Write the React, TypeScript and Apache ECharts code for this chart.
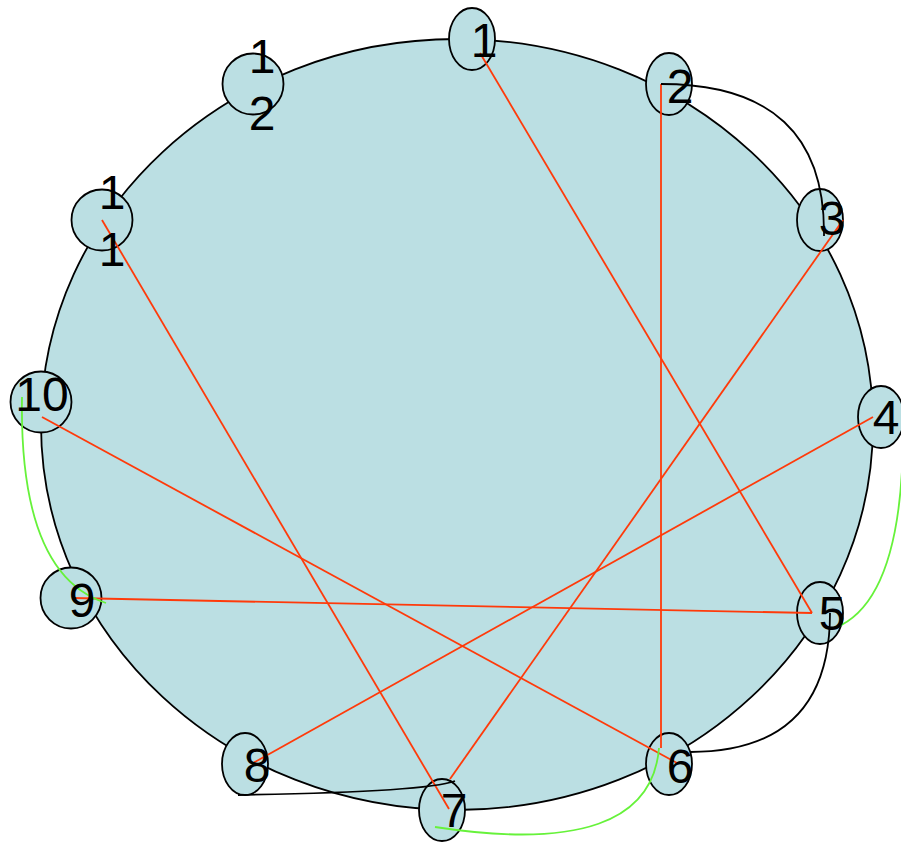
import React, { useEffect, useRef } from 'react';
import * as echarts from 'echarts';

// Node layout (page pixel units on hidden 0..901 / 0..842 axes)
const nodeLabels = ['1', '2', '3', '4', '5', '6', '7', '8', '9', '10', '1\n1', '1\n2'];
const nodeX = [472, 669, 820, 881, 820, 669, 442, 245, 71, 41, 102, 253];
const nodeY = [39, 84, 220, 417, 613, 764, 810, 764, 598, 402, 220, 84];
const nodeW = [46, 46, 46, 46, 46, 46, 46, 46, 61, 61, 61, 61];
const nodeH = [62, 62, 62, 62, 62, 62, 62, 62, 61, 61, 61, 61];
const labelX = [484, 680, 832, 886, 832, 680, 454, 257, 82, 42, 112, 262];
const labelY = [40, 86, 218, 417, 613, 766, 810, 765, 600, 394, 221, 85];

// Background disc
const discCenter = [457, 424.5];
const discSize = [832, 771];

// Straight (red) edges
const redEdges = [[1, 5], [5, 9], [2, 6], [3, 7], [4, 8], [10, 6], [11, 7]];
const redX1 = [480, 812, 661, 843, 873, 42, 102];
const redY1 = [53, 613, 84, 220, 417, 417, 220];
const redX2 = [812, 72, 661, 450, 253, 677, 449];
const redY2 = [613, 598, 748, 779, 763, 763, 809];

// Curved (black) edges: start, control, end
const blackEdges = [[2, 3], [5, 6], [8, 7]];
const blackX1 = [661, 830, 238];
const blackY1 = [84, 613, 795];
const blackCX = [826, 830, 425];
const blackCY = [84, 752, 792];
const blackX2 = [824, 690, 455];
const blackY2 = [236, 752, 781];

// Curved (green) edges: start, control, end
const greenEdges = [[10, 9], [4, 5], [6, 7]];
const greenX1 = [22, 903, 659];
const greenY1 = [397, 420, 748];
const greenCX = [19, 905, 650];
const greenCY = [575, 600, 860];
const greenX2 = [106, 835, 435];
const greenY2 = [603, 628, 827];

const FILL = '#BBDFE3';
const RED = '#FF3A0A';
const GREEN = '#66F23A';

function curveSeries(x1: number[], y1: number[], cx: number[], cy: number[], x2: number[], y2: number[], color: string) {
  return {
    type: 'custom',
    coordinateSystem: 'cartesian2d',
    data: x1.map((_, i) => [x1[i], y1[i], cx[i], cy[i], x2[i], y2[i]]),
    encode: { x: [0, 2, 4], y: [1, 3, 5] },
    silent: true,
    renderItem: (params: any, api: any) => {
      const p1 = api.coord([api.value(0), api.value(1)]);
      const c = api.coord([api.value(2), api.value(3)]);
      const p2 = api.coord([api.value(4), api.value(5)]);
      return {
        type: 'bezierCurve',
        shape: { x1: p1[0], y1: p1[1], cpx1: c[0], cpy1: c[1], x2: p2[0], y2: p2[1] },
        style: { stroke: color, lineWidth: 1.8, fill: 'none' },
      };
    },
  };
}

export default function App() {
  const ref = useRef<HTMLDivElement>(null);

  useEffect(() => {
    if (!ref.current) return;
    const chart = echarts.init(ref.current, undefined, { renderer: 'svg' });

    const option: any = {
      animation: false,
      grid: { left: 0, right: 0, top: 0, bottom: 0, containLabel: false },
      xAxis: { type: 'value', min: 0, max: 901, show: false },
      yAxis: { type: 'value', min: 0, max: 842, inverse: true, show: false },
      series: [
        {
          type: 'custom',
          coordinateSystem: 'cartesian2d',
          silent: true,
          data: [[discCenter[0], discCenter[1], discSize[0], discSize[1]]],
          encode: { x: 0, y: 1 },
          renderItem: (params: any, api: any) => {
            const c = api.coord([api.value(0), api.value(1)]);
            const s = api.size([api.value(2), api.value(3)]);
            return {
              type: 'ellipse',
              shape: { cx: c[0], cy: c[1], rx: s[0] / 2, ry: s[1] / 2 },
              style: { fill: FILL, stroke: '#000', lineWidth: 1.8 },
            };
          },
        },
        {
          type: 'custom',
          coordinateSystem: 'cartesian2d',
          silent: true,
          data: nodeX.map((x, i) => [x, nodeY[i], nodeW[i], nodeH[i]]),
          encode: { x: 0, y: 1 },
          renderItem: (params: any, api: any) => {
            const c = api.coord([api.value(0), api.value(1)]);
            const s = api.size([api.value(2), api.value(3)]);
            return {
              type: 'ellipse',
              shape: { cx: c[0], cy: c[1], rx: s[0] / 2, ry: s[1] / 2 },
              style: { fill: FILL, stroke: '#000', lineWidth: 1.8 },
            };
          },
        },
        {
          type: 'custom',
          coordinateSystem: 'cartesian2d',
          silent: true,
          data: redEdges.map((e, i) => [redX1[i], redY1[i], redX2[i], redY2[i], e[0], e[1]]),
          encode: { x: [0, 2], y: [1, 3] },
          renderItem: (params: any, api: any) => {
            const p1 = api.coord([api.value(0), api.value(1)]);
            const p2 = api.coord([api.value(2), api.value(3)]);
            return {
              type: 'line',
              shape: { x1: p1[0], y1: p1[1], x2: p2[0], y2: p2[1] },
              style: { stroke: RED, lineWidth: 1.8 },
            };
          },
        },
        curveSeries(blackX1, blackY1, blackCX, blackCY, blackX2, blackY2, '#000'),
        curveSeries(greenX1, greenY1, greenCX, greenCY, greenX2, greenY2, GREEN),
        {
          type: 'custom',
          coordinateSystem: 'cartesian2d',
          silent: true,
          data: labelX.map((x, i) => [x, labelY[i], i]),
          encode: { x: 0, y: 1 },
          renderItem: (params: any, api: any) => {
            const c = api.coord([api.value(0), api.value(1)]);
            const idx = api.value(2);
            return {
              type: 'text',
              x: c[0],
              y: c[1],
              style: {
                text: nodeLabels[idx],
                fill: '#000',
                fontSize: 48,
                fontFamily: '"Liberation Sans", Arial, sans-serif',
                align: 'center',
                verticalAlign: 'middle',
                lineHeight: 57,
              },
            };
          },
        },
      ],
    };

    chart.setOption(option);
    return () => chart.dispose();
  }, []);

  return (
    <div
      ref={ref}
      style={{ position: 'absolute', left: 0, top: 0, width: 901, height: 842 }}
    />
  );
}
